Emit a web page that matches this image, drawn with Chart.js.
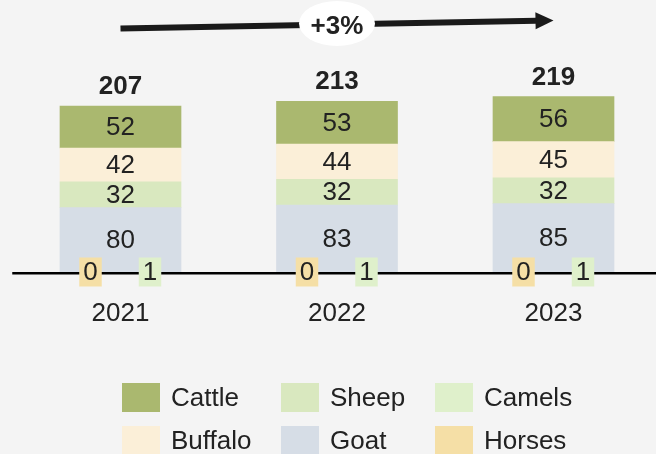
<!DOCTYPE html>
<html>
<head>
<meta charset="utf-8">
<script src="https://cdn.jsdelivr.net/npm/chart.js@4"></script>
<style>
  html, body { margin: 0; padding: 0; background: #f4f4f4; overflow: hidden; width: 656px; height: 454px; }
  #wrap { width: 672px; height: 454px; }
  canvas { display: block; }
</style>
</head>
<body>
<div id="wrap"><canvas id="c" width="672" height="454"></canvas></div>
<script>
// ---- data ----
const years   = ['2021', '2022', '2023'];
const goat    = [80, 83, 85];
const sheep   = [32, 32, 32];
const buffalo = [42, 44, 45];
const cattle  = [52, 53, 56];
const camels  = [1, 1, 1];
const horses  = [0, 0, 0];
const growthLabel = '+3%';

// ---- styles ----
const COLORS = {
  Cattle: '#aab86f', Buffalo: '#fbefd8', Sheep: '#d9e8bf',
  Goat: '#d6dde6', Camels: '#dff0cb', Horses: '#f5dfa6'
};
const FONT = "'Liberation Sans', Arial, sans-serif";
const TEXT = '#222222';

const mainSets = [
  { label: 'Goat', data: goat },
  { label: 'Sheep', data: sheep },
  { label: 'Buffalo', data: buffalo },
  { label: 'Cattle', data: cattle }
].map(d => ({ ...d, backgroundColor: COLORS[d.label], yAxisID: 'y', stack: 's', borderWidth: 0 }));

const smallSets = [
  { label: 'Horses', data: horses, offset: -30 },
  { label: 'Camels', data: camels, offset: 29.5 }
].map(d => ({ ...d, backgroundColor: 'rgba(0,0,0,0)', yAxisID: 'y2', stack: 's', borderWidth: 0, small: true }));

const legendGrid = [['Cattle', 'Sheep', 'Camels'], ['Buffalo', 'Goat', 'Horses']];

const overlay = {
  id: 'overlay',
  afterDatasetsDraw(chart) {
    const ctx = chart.ctx;
    const x = chart.scales.x, y = chart.scales.y;
    const area = chart.chartArea;
    ctx.save();

    // segment labels
    ctx.font = `26px ${FONT}`;
    ctx.fillStyle = TEXT;
    ctx.textAlign = 'center';
    ctx.textBaseline = 'middle';
    chart.data.datasets.forEach((ds, di) => {
      if (ds.small) return;
      chart.getDatasetMeta(di).data.forEach((el, i) => {
        ctx.fillText(String(ds.data[i]), el.x, (el.y + el.base) / 2 + 1);
      });
    });

    // baseline
    const by = y.getPixelForValue(0);
    ctx.strokeStyle = '#000';
    ctx.lineWidth = 2.5;
    ctx.beginPath();
    ctx.moveTo(area.left, by + 1.25);
    ctx.lineTo(chart.width, by + 1.25);
    ctx.stroke();

    // small-value labels (horses, camels)
    chart.data.datasets.forEach(ds => {
      if (!ds.small) return;
      ds.data.forEach((v, i) => {
        const cx = x.getPixelForValue(i) + ds.offset;
        ctx.fillStyle = COLORS[ds.label];
        ctx.fillRect(cx - 11.25, by - 14.5, 22.5, 29);
        ctx.fillStyle = TEXT;
        ctx.font = `26px ${FONT}`;
        ctx.textAlign = 'center';
        ctx.textBaseline = 'middle';
        ctx.fillText(String(v), cx, by + 1);
      });
    });

    // totals
    ctx.font = `bold 26px ${FONT}`;
    ctx.textBaseline = 'alphabetic';
    years.forEach((_, i) => {
      let stackTop = 0, total = 0;
      chart.data.datasets.forEach(ds => {
        total += ds.data[i];
        if (!ds.small) stackTop += ds.data[i];
      });
      ctx.fillText(String(total), x.getPixelForValue(i), y.getPixelForValue(stackTop) - 12);
    });

    // growth arrow
    const x0 = x.getPixelForValue(0), x2 = x.getPixelForValue(years.length - 1);
    const yL = 28.5, yR = 20.5, headLen = 18, headHalf = 8.5;
    const ang = Math.atan2(yR - yL, x2 - x0);
    const bx = x2 - headLen * Math.cos(ang), byy = yR - headLen * Math.sin(ang);
    ctx.strokeStyle = '#1a1a1a';
    ctx.fillStyle = '#1a1a1a';
    ctx.lineWidth = 6;
    ctx.beginPath();
    ctx.moveTo(x0, yL);
    ctx.lineTo(bx + 1, byy);
    ctx.stroke();
    ctx.beginPath();
    ctx.moveTo(x2, yR);
    ctx.lineTo(bx - headHalf * Math.sin(ang), byy + headHalf * Math.cos(ang));
    ctx.lineTo(bx + headHalf * Math.sin(ang), byy - headHalf * Math.cos(ang));
    ctx.closePath();
    ctx.fill();

    const mx = (x0 + x2) / 2;
    ctx.fillStyle = '#ffffff';
    ctx.beginPath();
    ctx.ellipse(mx, 23.5, 38, 22.5, 0, 0, Math.PI * 2);
    ctx.fill();
    ctx.fillStyle = TEXT;
    ctx.font = `bold 26px ${FONT}`;
    ctx.textAlign = 'center';
    ctx.textBaseline = 'alphabetic';
    ctx.fillText(growthLabel, mx, 33.5);

    // legend
    const colX = [122, 281, 435], rowY = [383, 426];
    ctx.font = `26px ${FONT}`;
    ctx.textAlign = 'left';
    ctx.textBaseline = 'middle';
    legendGrid.forEach((row, r) => row.forEach((name, c) => {
      ctx.fillStyle = COLORS[name];
      ctx.fillRect(colX[c], rowY[r], 38, 29);
      ctx.fillStyle = TEXT;
      ctx.fillText(name, colX[c] + 49, rowY[r] + 15.5);
    }));

    ctx.restore();
  }
};

new Chart(document.getElementById('c'), {
  type: 'bar',
  data: { labels: years, datasets: [...mainSets, ...smallSets] },
  options: {
    responsive: false,
    animation: false,
    devicePixelRatio: 1,
    layout: { padding: { left: 12.25, right: 10.25, top: 70.75, bottom: 0 } },
    barThickness: 121,
    plugins: { legend: { display: false }, tooltip: { enabled: false } },
    scales: {
      x: {
        stacked: true,
        grid: { display: false, drawTicks: false },
        border: { display: false },
        ticks: { color: TEXT, font: { family: FONT, size: 26 }, padding: 26, maxRotation: 0 },
        afterFit(scale) { scale.height = 182; }
      },
      y: { stacked: true, display: false, min: 0, max: 250 },
      y2: { stacked: true, display: false, min: 0, max: 250 }
    }
  },
  plugins: [overlay]
});
</script>
</body>
</html>
